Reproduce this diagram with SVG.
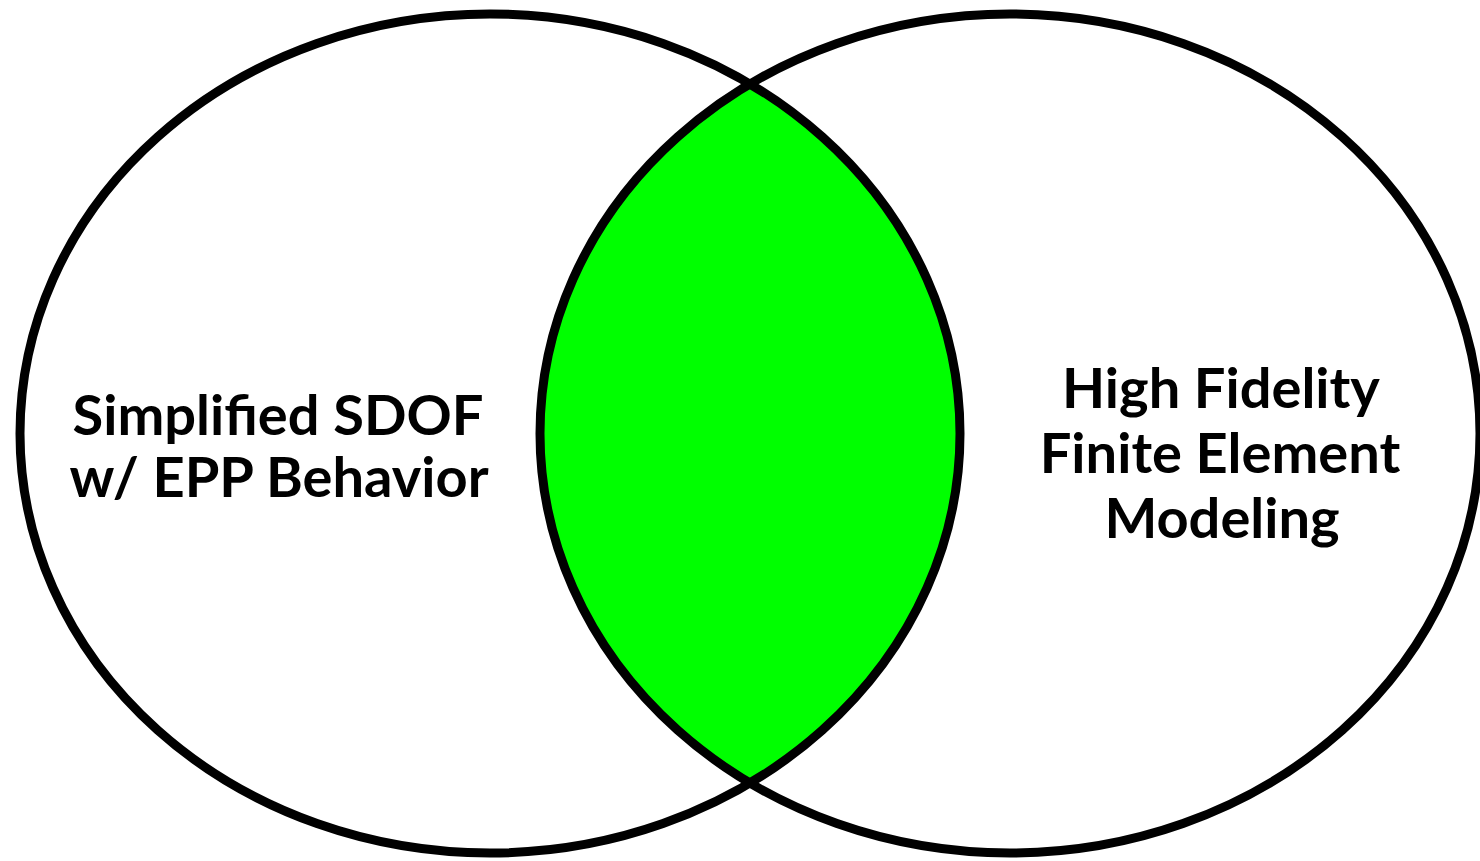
<svg xmlns="http://www.w3.org/2000/svg" width="1480" height="861" viewBox="0 0 1480 861">
<style>
.ring{fill:none;stroke:#000;stroke-width:9}
.lbl{font-family:Lato,"Open Sans","Liberation Sans",sans-serif;font-weight:bold;font-size:56px;fill:#000;text-anchor:middle}
</style>
<defs>
<clipPath id="clipLeft"><ellipse cx="490" cy="433.5" rx="470" ry="419.5"/></clipPath>
</defs>
<rect width="1480" height="861" fill="#fff"/>
<g id="overlap">
<ellipse cx="1010" cy="433.5" rx="470" ry="419.5" fill="#00ff00" clip-path="url(#clipLeft)"/>
</g>
<g id="left-set">
<ellipse class="ring" cx="490" cy="433.5" rx="470" ry="419.5"/>
<text class="lbl" x="278" y="435">Simplified SDOF</text>
<text class="lbl" x="279" y="497">w/ EPP Behavior</text>
</g>
<g id="right-set">
<ellipse class="ring" cx="1010" cy="433.5" rx="470" ry="419.5"/>
<text class="lbl" x="1221" y="408">High Fidelity</text>
<text class="lbl" x="1220" y="473">Finite Element</text>
<text class="lbl" x="1222" y="538">Modeling</text>
</g>
</svg>
